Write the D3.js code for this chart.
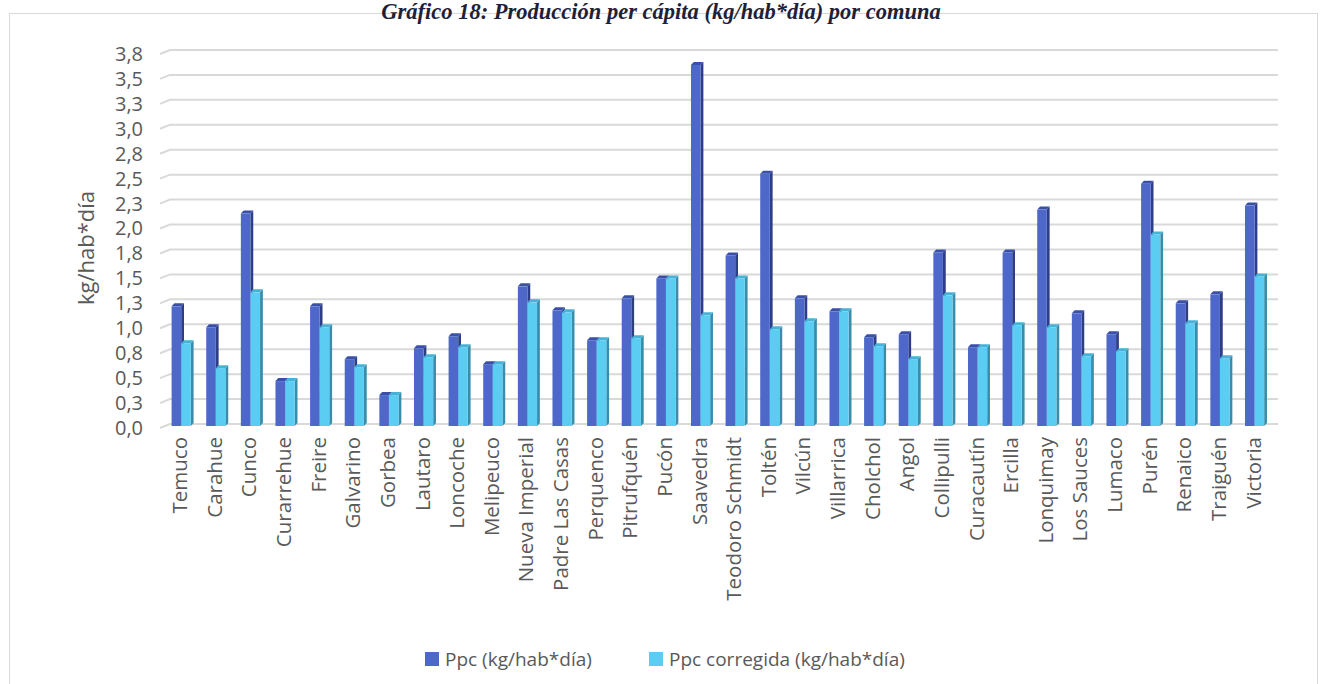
<!DOCTYPE html>
<html>
<head>
<meta charset="utf-8">
<script src="https://cdnjs.cloudflare.com/ajax/libs/d3/7.8.5/d3.min.js"></script>
<style>
  html, body { margin: 0; padding: 0; background: #ffffff; }
  svg { display: block; }
</style>
</head>
<body>
<script>
const categories = ["Temuco","Carahue","Cunco","Curarrehue","Freire","Galvarino","Gorbea","Lautaro","Loncoche","Melipeuco","Nueva Imperial","Padre Las Casas","Perquenco","Pitrufquén","Pucón","Saavedra","Teodoro Schmidt","Toltén","Vilcún","Villarrica","Cholchol","Angol","Collipulli","Curacautín","Ercilla","Lonquimay","Los Sauces","Lumaco","Purén","Renaico","Traiguén","Victoria"];
const ppc = [1.20,0.99,2.13,0.45,1.20,0.67,0.31,0.78,0.90,0.62,1.40,1.16,0.86,1.28,1.48,3.62,1.71,2.53,1.28,1.15,0.89,0.92,1.74,0.79,1.74,2.17,1.13,0.92,2.43,1.23,1.32,2.21];
const ppcCorregida = [0.83,0.58,1.34,0.45,0.99,0.59,0.31,0.69,0.79,0.62,1.24,1.14,0.86,0.88,1.48,1.11,1.48,0.97,1.05,1.15,0.80,0.67,1.31,0.79,1.01,0.99,0.70,0.75,1.92,1.03,0.68,1.50];
const seriesNames = ["Ppc (kg/hab*día)", "Ppc corregida (kg/hab*día)"];
const yTickValues = [0,0.25,0.5,0.75,1,1.25,1.5,1.75,2,2.25,2.5,2.75,3,3.25,3.5,3.75];
const yTickLabels = ["0,0","0,3","0,5","0,8","1,0","1,3","1,5","1,8","2,0","2,3","2,5","2,8","3,0","3,3","3,5","3,8"];
const titleText = "Gráfico 18: Producción per cápita (kg/hab*día) por comuna";
const yTitle = "kg/hab*día";

const W = 1322, H = 684;
const FONT = "'Open Sans', 'DejaVu Sans', sans-serif";
const colors = [
  { front: "#4d68c9", side: "#2d3d86", top: "#3a50a6" },
  { front: "#5ccdf2", side: "#3a8cab", top: "#47b2d6" }
];

const svg = d3.select("body").append("svg").attr("width", W).attr("height", H);

// chart border box
svg.append("rect").attr("x", 9.5).attr("y", 13.5).attr("width", 1308).attr("height", 720)
  .attr("fill", "none").attr("stroke", "#d9d9d9").attr("stroke-width", 1);

// title
svg.append("text").attr("x", 661).attr("y", 19).attr("text-anchor", "middle")
  .attr("font-family", "'Liberation Serif', serif").attr("font-weight", "bold")
  .attr("font-style", "italic").attr("font-size", 22.5).attr("fill", "#1f1f3a")
  .text(titleText);

const x = d3.scaleBand().domain(categories).range([170, 1278]).padding(0);
const y = d3.scaleLinear().domain([0, 3.75]).range([424, 50]);

// gridlines with 3D wall offset
const grid = svg.append("g");
yTickValues.forEach(v => {
  grid.append("path")
    .attr("d", `M160,${y(v) + 4}L170,${y(v)}L1278,${y(v)}`)
    .attr("fill", "none").attr("stroke", "#d9d9d9").attr("stroke-width", 2);
});

// y tick labels
const yAxis = d3.axisLeft(y).tickValues(yTickValues)
  .tickFormat((d, i) => yTickLabels[i]).tickSize(0).tickPadding(0);
const yg = svg.append("g").attr("transform", "translate(143,4)").call(yAxis);
yg.select(".domain").remove();
yg.selectAll("text").attr("font-family", FONT).attr("font-size", 20).attr("fill", "#595959");

// y axis title
svg.append("text").attr("transform", "translate(94,248) rotate(-90)")
  .attr("text-anchor", "middle").attr("font-family", FONT).attr("font-size", 22)
  .attr("fill", "#595959").text(yTitle);

// 3D bars
const barW = 9.6, dx = 2.8, dy = 3, off = 1.6;
const bars = svg.append("g");
function bar3d(g, bx, v, c) {
  const yt = y(v) + 2, yb = y(0) + 2;
  g.append("path").attr("d", `M${bx + barW},${yt}L${bx + barW + dx},${yt - dy}L${bx + barW + dx},${yb - dy}L${bx + barW},${yb}Z`).attr("fill", c.side);
  g.append("path").attr("d", `M${bx},${yt}L${bx + dx},${yt - dy}L${bx + barW + dx},${yt - dy}L${bx + barW},${yt}Z`).attr("fill", c.top);
  g.append("rect").attr("x", bx).attr("y", yt).attr("width", barW).attr("height", yb - yt).attr("fill", c.front);
}
categories.forEach((cat, i) => {
  const g = bars.append("g");
  const x0 = x(cat) + off;
  bar3d(g, x0, ppc[i], colors[0]);
  bar3d(g, x0 + barW, ppcCorregida[i], colors[1]);
});

// x labels
const xg = svg.append("g").attr("transform", "translate(-7.3,0)");
categories.forEach(cat => {
  xg.append("text")
    .attr("transform", `translate(${x(cat) + x.bandwidth() / 2},437) rotate(-90)`)
    .attr("text-anchor", "end").attr("dy", "0.35em")
    .attr("font-family", FONT).attr("font-size", 20.5).attr("fill", "#595959")
    .text(cat);
});

// legend
const legend = svg.append("g");
const legX = [425, 649];
seriesNames.forEach((name, i) => {
  legend.append("rect").attr("x", legX[i]).attr("y", 652).attr("width", 14).attr("height", 14)
    .attr("fill", colors[i].front);
  legend.append("text").attr("x", legX[i] + 20).attr("y", 659).attr("dy", "0.35em")
    .attr("font-family", FONT).attr("font-size", 19).attr("fill", "#595959").text(name);
});
</script>
</body>
</html>
